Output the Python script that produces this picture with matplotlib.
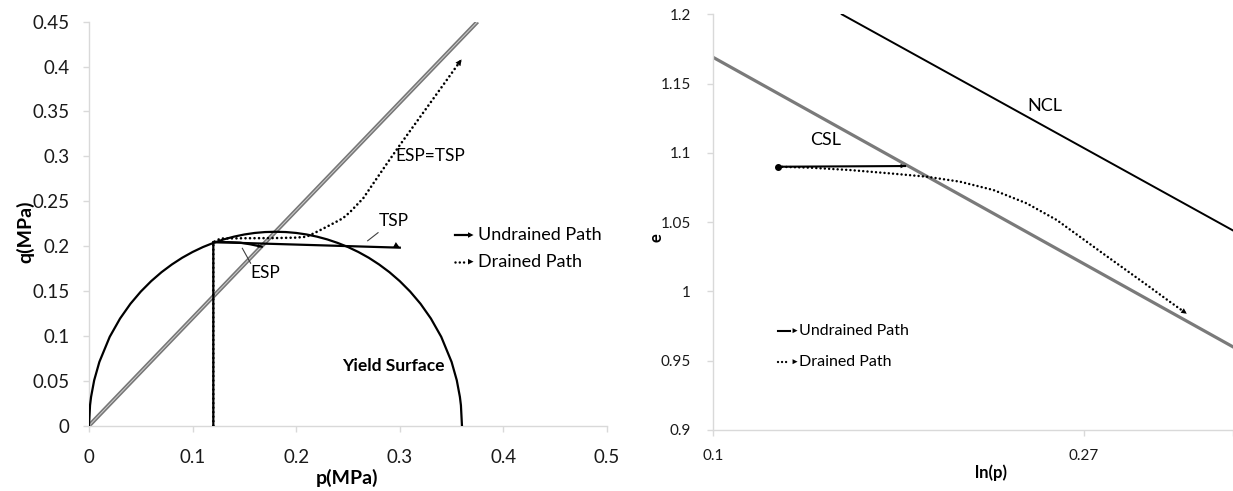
import numpy as np
import matplotlib
matplotlib.use("Agg")
import matplotlib.pyplot as plt

plt.rcParams['font.family'] = ['Lato', 'DejaVu Sans']

# ---------------- Left chart data (p-q plane) ----------------
yield_p = [0.0, 0.001, 0.002, 0.005, 0.01, 0.02, 0.03, 0.04, 0.05, 0.06, 0.07, 0.08, 0.09,
           0.10, 0.11, 0.12, 0.13, 0.14, 0.15, 0.16, 0.17, 0.18, 0.19, 0.20, 0.21, 0.22,
           0.23, 0.24, 0.25, 0.26, 0.27, 0.28, 0.29, 0.30, 0.31, 0.32, 0.33, 0.34, 0.35,
           0.355, 0.358, 0.359, 0.36]
yield_q = [0.0, 0.0227, 0.0321, 0.0506, 0.0710, 0.0990, 0.1194, 0.1358, 0.1494, 0.1610,
           0.1710, 0.1796, 0.1871, 0.1935, 0.1990, 0.2036, 0.2075, 0.2106, 0.2130, 0.2147,
           0.2157, 0.2160, 0.2157, 0.2147, 0.2130, 0.2106, 0.2075, 0.2036, 0.1990, 0.1935,
           0.1871, 0.1796, 0.1710, 0.1610, 0.1494, 0.1358, 0.1194, 0.0990, 0.0710, 0.0506,
           0.0321, 0.0227, 0.0]

csl_pq_p = [0.0, 0.375]
csl_pq_q = [0.0, 0.45]

esp_p = [0.12, 0.12, 0.135, 0.1458, 0.1554, 0.1667]
esp_q = [0.0, 0.2045, 0.2044, 0.2039, 0.2021, 0.1994]

tsp_p = [0.12, 0.30]
tsp_q = [0.2045, 0.1983]

drained_pq_p = [0.12, 0.12, 0.127, 0.150, 0.180, 0.200, 0.210, 0.2165, 0.226, 0.236, 0.245,
                0.252, 0.2648, 0.276, 0.2873, 0.300, 0.320, 0.340, 0.3596]
drained_pq_q = [0.0, 0.2045, 0.2085, 0.2088, 0.2090, 0.2095, 0.2105, 0.2140, 0.2195, 0.2255,
                0.2310, 0.2380, 0.2535, 0.2725, 0.2915, 0.3125, 0.3445, 0.3765, 0.4080]

left_xticks = [0, 0.1, 0.2, 0.3, 0.4, 0.5]
left_xlabels = ['0', '0.1', '0.2', '0.3', '0.4', '0.5']
left_yticks = [0, 0.05, 0.1, 0.15, 0.2, 0.25, 0.3, 0.35, 0.4, 0.45]
left_ylabels = ['0', '0.05', '0.1', '0.15', '0.2', '0.25', '0.3', '0.35', '0.4', '0.45']

# ---------------- Right chart data (ln p - e plane) ----------------
csl_e_p = [0.1, 0.4062]
csl_e_e = [1.169, 0.960]
ncl_p = [0.1415, 0.4062]
ncl_e = [1.200, 1.044]

undrained_e_p = [0.1191, 0.1678]
undrained_e_e = [1.090, 1.0905]

drained_e_p = [0.1191, 0.130, 0.1447, 0.1611, 0.1779, 0.1946, 0.2129, 0.2329, 0.2525,
               0.2713, 0.2880, 0.3050, 0.3248, 0.342, 0.3586]
drained_e_e = [1.090, 1.0893, 1.0876, 1.0852, 1.0828, 1.0792, 1.0732, 1.0636, 1.0516,
               1.0377, 1.0261, 1.0151, 1.0030, 0.9929, 0.9839]

right_yticks = [0.9, 0.95, 1.0, 1.05, 1.1, 1.15, 1.2]
right_ylabels = ['0.9', '0.95', '1', '1.05', '1.1', '1.15', '1.2']
right_xticks = [0.1, 0.1 * np.e, 0.4062]
right_xlabels = ['0.1', '0.27', '']

# ---------------- Figure ----------------
W, H = 1233, 491
fig = plt.figure(figsize=(W / 100, H / 100), dpi=100)
ax1 = fig.add_axes([89 / W, 1 - 425.7 / H, (607 - 89) / W, (425.7 - 21.7) / H])
ax2 = fig.add_axes([713 / W, 1 - 430 / H, (1233 - 713) / W, (430 - 14.3) / H])

spine_col = '#d9d9d9'
for ax in (ax1, ax2):
    for s in ('top', 'right'):
        ax.spines[s].set_visible(False)
    for s in ('left', 'bottom'):
        ax.spines[s].set_color(spine_col)
        ax.spines[s].set_linewidth(1.0)
    ax.tick_params(which='major', direction='out', length=4, color=spine_col, width=1)
    ax.tick_params(which='minor', length=0)

DOT = (0, (0.01, 1.7))


def arrow_head(ax, x0, y0, x1, y1, ms=11):
    ax.annotate('', xy=(x1, y1), xytext=(x0, y0),
                arrowprops=dict(arrowstyle='-|>', color='black', lw=0,
                                mutation_scale=ms, shrinkA=0, shrinkB=0),
                zorder=6, annotation_clip=False)


# ---- Left axes ----
ax1.set_xlim(0, 0.5)
ax1.set_ylim(0, 0.45)
ax1.set_xticks(left_xticks)
ax1.set_xticklabels(left_xlabels, fontsize=13.5, color='#1a1a1a')
ax1.set_yticks(left_yticks)
ax1.set_yticklabels(left_ylabels, fontsize=13.5, color='#1a1a1a')
ax1.tick_params(axis='x', pad=13)
ax1.tick_params(axis='y', pad=10)

ax1.plot(csl_pq_p, csl_pq_q, color='#777777', lw=3.0, solid_capstyle='butt', zorder=2)
ax1.plot(csl_pq_p, csl_pq_q, color='#cfcfcf', lw=0.7, solid_capstyle='butt', zorder=2)
ax1.plot(yield_p, yield_q, color='black', lw=1.6, zorder=3)
ax1.plot(drained_pq_p, drained_pq_q, color='black', lw=1.9, ls=DOT,
         dash_capstyle='round', zorder=4)
arrow_head(ax1, drained_pq_p[-2], drained_pq_q[-2], drained_pq_p[-1], drained_pq_q[-1])
ax1.plot(esp_p, esp_q, color='black', lw=1.6, zorder=5)
arrow_head(ax1, esp_p[-2], esp_q[-2], esp_p[-1], esp_q[-1], ms=7)
ax1.plot(tsp_p, tsp_q, color='black', lw=1.6, zorder=5)
arrow_head(ax1, tsp_p[-2] + 0.17, tsp_q[-2], tsp_p[-1], tsp_q[-1], ms=11)

ax1.text(0.329, 0.300, 'ESP=TSP', fontsize=12.5, ha='center', va='center')
ax1.text(0.294, 0.228, 'TSP', fontsize=12.5, ha='center', va='center')
ax1.plot([0.269, 0.279], [0.206, 0.215], color='#404040', lw=0.8)
ax1.text(0.170, 0.170, 'ESP', fontsize=12.5, ha='center', va='center')
ax1.plot([0.148, 0.156], [0.1976, 0.181], color='#404040', lw=0.8)
ax1.text(0.294, 0.066, 'Yield Surface', fontsize=12.5, fontweight='bold',
         ha='center', va='center')

# left legend (drawn shapes)
ax1.plot([0.3533, 0.365], [0.2124, 0.2124], color='black', lw=1.6, clip_on=False)
arrow_head(ax1, 0.360, 0.2124, 0.3712, 0.2124, ms=10)
ax1.text(0.3755, 0.2124, 'Undrained Path', fontsize=13, ha='left', va='center', clip_on=False)
ax1.plot([0.3533, 0.365], [0.1827, 0.1827], color='black', lw=1.8, ls=DOT,
         dash_capstyle='round', clip_on=False)
arrow_head(ax1, 0.360, 0.1827, 0.3712, 0.1827, ms=10)
ax1.text(0.3755, 0.1827, 'Drained Path', fontsize=13, ha='left', va='center', clip_on=False)

fig.text(25 / W, 1 - 232 / H, 'q(MPa)', rotation=90, fontsize=14, fontweight='bold',
         ha='center', va='center')
fig.text(347 / W, 1 - 478 / H, 'p(MPa)', fontsize=14, fontweight='bold',
         ha='center', va='center')

# ---- Right axes ----
ax2.set_xscale('log', base=np.e)
ax2.set_xlim(0.1, 0.4062)
ax2.set_ylim(0.9, 1.2)
ax2.set_xticks(right_xticks)
ax2.set_xticklabels(right_xlabels, fontsize=11, color='#1a1a1a')
ax2.minorticks_off()
ax2.set_yticks(right_yticks)
ax2.set_yticklabels(right_ylabels, fontsize=11, color='#1a1a1a')
ax2.tick_params(axis='x', pad=10)
ax2.tick_params(axis='y', pad=12)

ax2.plot(csl_e_p, csl_e_e, color='#7a7a7a', lw=2.3, zorder=2)
ax2.plot(ncl_p, ncl_e, color='black', lw=1.4, zorder=2)
ax2.plot(drained_e_p, drained_e_e, color='black', lw=1.8, ls=DOT,
         dash_capstyle='round', zorder=4)
arrow_head(ax2, drained_e_p[-2], drained_e_e[-2], drained_e_p[-1], drained_e_e[-1], ms=10)
ax2.plot(undrained_e_p, undrained_e_e, color='black', lw=1.5, zorder=5)
ax2.plot(undrained_e_p[:1], undrained_e_e[:1], 'o', color='black', ms=4, zorder=6)
arrow_head(ax2, undrained_e_p[0], undrained_e_e[0], undrained_e_p[-1], undrained_e_e[-1], ms=8)

ax2.text(0.1356, 1.1093, 'CSL', fontsize=13, ha='center', va='center')
ax2.text(0.2447, 1.1338, 'NCL', fontsize=13, ha='center', va='center')

ax2.plot([0.1191, 0.1232], [0.9717, 0.9717], color='black', lw=1.5)
arrow_head(ax2, 0.1200, 0.9717, 0.1256, 0.9717, ms=9)
ax2.text(0.1260, 0.9717, 'Undrained Path', fontsize=11.5, ha='left', va='center')
ax2.plot([0.1191, 0.1232], [0.9493, 0.9493], color='black', lw=1.7, ls=DOT,
         dash_capstyle='round')
arrow_head(ax2, 0.1200, 0.9493, 0.1256, 0.9493, ms=9)
ax2.text(0.1260, 0.9493, 'Drained Path', fontsize=11.5, ha='left', va='center')

fig.text(657 / W, 1 - 238 / H, 'e', rotation=90, fontsize=12, fontweight='bold',
         ha='center', va='center')
fig.text(991 / W, 1 - 473 / H, 'ln(p)', fontsize=12, fontweight='bold',
         ha='center', va='center')

fig.savefig('out.png', dpi=100)
